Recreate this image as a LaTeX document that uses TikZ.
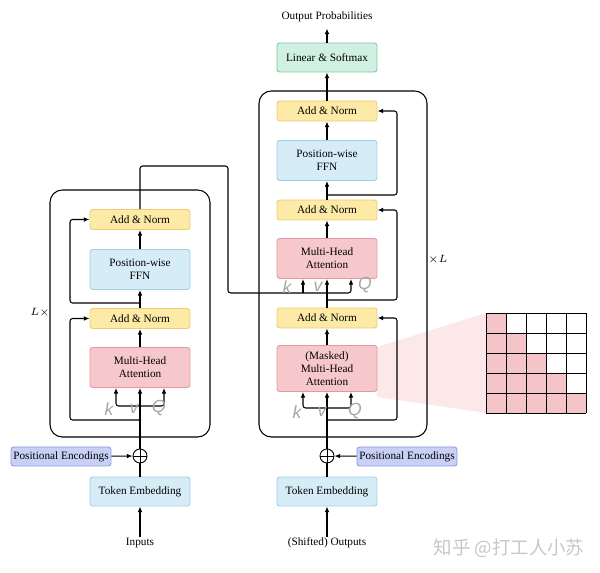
\documentclass[tikz,border=0pt]{standalone}
\usepackage{fontspec}
\setmainfont{Liberation Serif}
\newfontfamily\cjkfont{Noto Sans CJK SC}
\newfontfamily\handfont{Liberation Sans}
\usetikzlibrary{arrows.meta}
\definecolor{anfill}{RGB}{253,234,166}
\definecolor{andraw}{RGB}{236,204,110}
\definecolor{ffnfill}{RGB}{214,236,247}
\definecolor{ffndraw}{RGB}{160,206,230}
\definecolor{attfill}{RGB}{247,200,203}
\definecolor{attdraw}{RGB}{230,152,160}
\definecolor{linfill}{RGB}{208,240,226}
\definecolor{lindraw}{RGB}{125,200,165}
\definecolor{pefill}{RGB}{200,208,245}
\definecolor{pedraw}{RGB}{140,155,225}
\definecolor{maskfill}{RGB}{245,196,200}
\definecolor{zoomfill}{RGB}{252,232,232}

\begin{document}
\begin{tikzpicture}[x=0.02cm, y=-0.02cm, font=\fontsize{6.4}{7.4}\selectfont, line width=0.6pt,
  box/.style={draw, rounded corners=1.5pt, inner sep=0pt, minimum width=2cm, align=center, line width=0.5pt},
  addnorm/.style={box, fill=anfill, draw=andraw, minimum height=0.4cm},
  ffn/.style={box, fill=ffnfill, draw=ffndraw, minimum height=0.8cm},
  att/.style={box, fill=attfill, draw=attdraw, minimum height=0.8cm},
  emb/.style={box, fill=ffnfill, draw=ffndraw, minimum height=0.58cm},
  lin/.style={box, fill=linfill, draw=lindraw, minimum height=0.58cm},
  pe/.style={box, fill=pefill, draw=pedraw, minimum height=0.38cm},
  plus/.style={circle, draw, minimum size=0.28cm, inner sep=0pt, line width=0.5pt,
    path picture={\draw[line width=0.5pt] (path picture bounding box.north) -- (path picture bounding box.south)
      (path picture bounding box.west) -- (path picture bounding box.east);}},
  arr/.style={-{Latex[length=3.2pt,width=2.6pt]}, rounded corners=1.5pt},
  wire/.style={rounded corners=1.5pt},
  hand/.style={text=black!35, font=\handfont\itshape\fontsize{10}{10}\selectfont}]
\useasboundingbox (0,0) rectangle (600,573);

\fill[zoomfill] (377,347) -- (486,313) -- (486,413) -- (377,397) -- cycle;
\foreach \r in {0,...,4}
  \fill[maskfill] (486,{313+20*\r}) rectangle ({506+20*\r},{333+20*\r});
\foreach \i in {0,...,5} {
  \draw[line width=0.5pt] ({486+20*\i},313) -- ({486+20*\i},413);
  \draw[line width=0.5pt] (486,{313+20*\i}) -- (586,{313+20*\i});
}

\draw[rounded corners=7pt] (50,190) rectangle (210,437);
\draw[rounded corners=7pt] (259,91) rectangle (427,437);
\node at (40,313) {$L\times$};
\node at (438,260) {$\times L$};

\node[addnorm] (encAN2) at (140,219.5) {Add \& Norm};
\node[ffn] (encFFN) at (140,269.5) {Position-wise\\FFN};
\node[addnorm] (encAN1) at (140,318.5) {Add \& Norm};
\node[att] (encMHA) at (140,367.5) {Multi-Head\\Attention};
\node[plus] (encAdd) at (140,456) {};
\node[pe] (encPE) at (61,456.5) {Positional Encodings};
\node[emb] (encEmb) at (140,491.5) {Token Embedding};
\node (inp) at (140,543) {Inputs};

\node[lin] (decLin) at (327,57.5) {Linear \& Softmax};
\node[addnorm] (decAN3) at (327,111) {Add \& Norm};
\node[ffn] (decFFN) at (327,160.5) {Position-wise\\FFN};
\node[addnorm] (decAN2) at (327,210) {Add \& Norm};
\node[att] (decMHA) at (327,258.5) {Multi-Head\\Attention};
\node[addnorm] (decAN1) at (327,318) {Add \& Norm};
\node[att, minimum height=0.92cm] (decMMHA) at (327,368.5) {(Masked)\\Multi-Head\\Attention};
\node[plus] (decAdd) at (327,456) {};
\node[pe] (decPE) at (407,456.5) {Positional Encodings};
\node[emb] (decEmb) at (327,491.5) {Token Embedding};
\node (outp) at (327,543) {(Shifted) Outputs};
\node (prob) at (327,17) {Output Probabilities};

\coordinate (encKV) at (140,406);
\coordinate (encK) at (116,406);
\coordinate (encQ) at (164,406);
\coordinate (encR1) at (140,420);
\coordinate (encR2) at (140,303);
\draw[arr] ([yshift=-3pt]inp.north) -- (encEmb);
\draw (encEmb) -- (encAdd);
\draw[arr] (encPE) -- (encAdd);
\draw[arr] (encAdd) -- (encMHA);
\draw[arr] (encKV) -- (encK) -- (encK |- encMHA.south);
\draw[arr] (encKV) -- (encQ) -- (encQ |- encMHA.south);
\draw[arr] (encR1) -- (70,420) |- (encAN1);
\draw[arr] (encMHA) -- (encAN1);
\draw[arr] (encAN1) -- (encFFN);
\draw[arr] (encR2) -- (70,303) |- (encAN2);
\draw[arr] (encFFN) -- (encAN2);

\coordinate (encOut) at (140,166);
\coordinate (encTurn) at (228,166);
\coordinate (encMem) at (228,293);
\coordinate (decMid) at (327,293);
\coordinate (decK2) at (303,293);
\coordinate (decQ2) at (351,293);
\draw[wire] (encAN2) -- (encOut) -- (encTurn) -- (encMem) -- (decMid);
\draw[arr] (decK2) -- (decK2 |- decMHA.south);

\coordinate (decKV) at (327,408);
\coordinate (decK) at (303,408);
\coordinate (decQ) at (351,408);
\coordinate (decR1) at (327,420);
\coordinate (decR2) at (327,300);
\coordinate (decR3) at (327,195);
\draw[arr] ([yshift=-3pt]outp.north) -- (decEmb);
\draw (decEmb) -- (decAdd);
\draw[arr] (decPE) -- (decAdd);
\draw[arr] (decAdd) -- (decMMHA);
\draw[arr] (decKV) -- (decK) -- (decK |- decMMHA.south);
\draw[arr] (decKV) -- (decQ) -- (decQ |- decMMHA.south);
\draw[arr] (decR1) -- (397,420) |- (decAN1);
\draw[arr] (decMMHA) -- (decAN1);
\draw[arr] (decAN1) -- (decMHA);
\draw[arr] (decMid) -- (decQ2) -- (decQ2 |- decMHA.south);
\draw[arr] (decR2) -- (397,300) |- (decAN2);
\draw[arr] (decMHA) -- (decAN2);
\draw[arr] (decAN2) -- (decFFN);
\draw[arr] (decR3) -- (397,195) |- (decAN3);
\draw[arr] (decFFN) -- (decAN3);
\draw[arr] (decAN3) -- (decLin);
\draw[arr] (decLin) -- (prob);

\node[hand] at (109,409) {k};
\node[hand] at (134,409) {v};
\node[hand] at (159,408) {Q};
\node[hand] at (297,412) {k};
\node[hand] at (322,412) {v};
\node[hand] at (355,411) {Q};
\node[hand] at (287,287) {k};
\node[hand] at (318,287) {v};
\node[hand] at (365,285) {Q};

\node[text=black!22, font=\cjkfont\fontsize{10.5}{12}\selectfont] at (509,548) {知乎 @打工人小苏};
\end{tikzpicture}
\end{document}
